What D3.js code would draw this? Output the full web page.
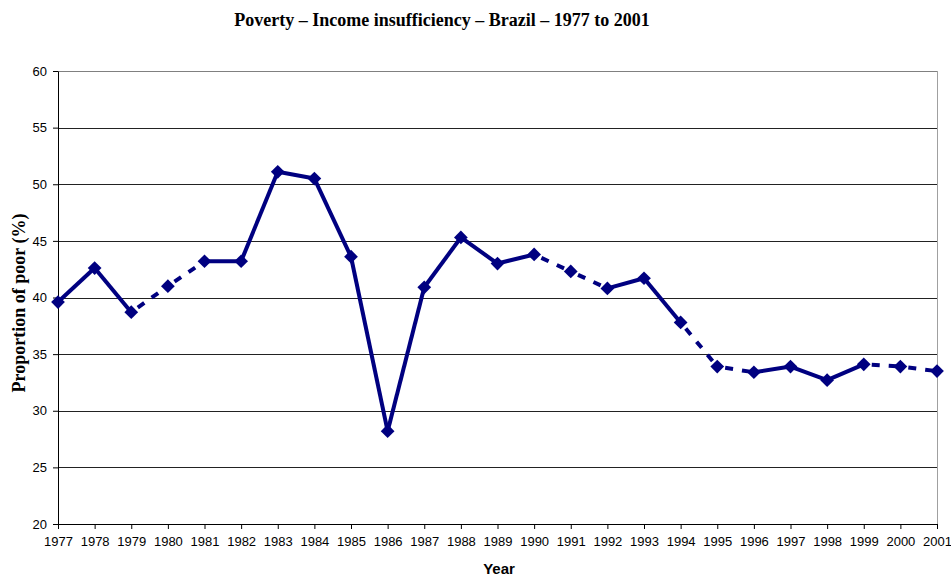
<!DOCTYPE html>
<html>
<head>
<meta charset="utf-8">
<script src="https://cdn.jsdelivr.net/npm/d3@7"></script>
<style>
  body { margin: 0; background: #fff; }
  .tick text { font-family: "Liberation Sans", Arial, sans-serif; font-size: 13px; fill: #000; }
</style>
</head>
<body>
<div id="chart"></div>
<script>
// data
var years = [1977, 1978, 1979, 1980, 1981, 1982, 1983, 1984, 1985, 1986, 1987, 1988, 1989,
  1990, 1991, 1992, 1993, 1994, 1995, 1996, 1997, 1998, 1999, 2000, 2001];
var poor = [39.6, 42.6, 38.7, 41.0, 43.2, 43.2, 51.1, 50.5, 43.6, 28.2, 40.9, 45.3, 43.0,
  43.8, 42.3, 40.8, 41.7, 37.8, 33.9, 33.4, 33.9, 32.7, 34.1, 33.9, 33.5];
// 1 = segment starting at this year is dashed
var dashedFrom = [0, 0, 1, 1, 0, 0, 0, 0, 0, 0, 0, 0, 0,
  1, 1, 0, 0, 1, 1, 0, 0, 0, 1, 1];
var yTicks = [20, 25, 30, 35, 40, 45, 50, 55, 60];

var svgWidth = 951, svgHeight = 576;
var margin = {top: 71, right: 14, bottom: 52, left: 58};
var width = svgWidth - margin.left - margin.right;
var height = svgHeight - margin.top - margin.bottom;

var svg = d3.select("#chart").append("svg")
  .attr("width", svgWidth)
  .attr("height", svgHeight);

var chartGroup = svg.append("g")
  .attr("transform", `translate(${margin.left}, ${margin.top})`);

var x = d3.scaleLinear().domain([1977, 2001]).range([0, width]);
var y = d3.scaleLinear().domain([20, 60]).range([height, 0]);

// grid lines
chartGroup.selectAll(".grid")
  .data(yTicks.slice(1))
  .enter()
  .append("line")
  .attr("x1", 0)
  .attr("x2", width)
  .attr("y1", d => Math.round(y(d)) + 0.5)
  .attr("y2", d => Math.round(y(d)) + 0.5)
  .attr("stroke", d => d === 60 ? "#808080" : "#222")
  .attr("stroke-width", 1);

// right border
chartGroup.append("line")
  .attr("x1", width + 0.5).attr("x2", width + 0.5)
  .attr("y1", 0).attr("y2", height)
  .attr("stroke", "#a0a0a0");

// axes
var xAxis = d3.axisBottom(x).tickValues(years).tickFormat(d3.format("d"))
  .tickSize(5).tickPadding(8).tickSizeOuter(0);
var yAxis = d3.axisLeft(y).tickValues(yTicks).tickSize(5).tickPadding(6).tickSizeOuter(0);

chartGroup.append("g")
  .attr("transform", `translate(0, ${height})`)
  .call(xAxis)
  .call(g => g.select(".domain").attr("stroke", "#000"));

chartGroup.append("g")
  .call(yAxis)
  .call(g => g.select(".domain").attr("stroke", "#000"));

// line segments
var segs = d3.range(years.length - 1);
chartGroup.selectAll(".seg")
  .data(segs)
  .enter()
  .append("line")
  .attr("x1", i => x(years[i]))
  .attr("y1", i => y(poor[i]))
  .attr("x2", i => x(years[i + 1]))
  .attr("y2", i => y(poor[i + 1]))
  .attr("stroke", "#000080")
  .attr("stroke-width", 4)
  .attr("stroke-dasharray", i => dashedFrom[i] ? "8,9" : null)
  .attr("stroke-dashoffset", i => dashedFrom[i] ? -8 : null);

// diamond markers
var diamond = d3.symbol().type(d3.symbolDiamond2).size(120);
chartGroup.selectAll(".pt")
  .data(years)
  .enter()
  .append("path")
  .attr("d", diamond)
  .attr("transform", (d, i) => `translate(${x(d)}, ${y(poor[i])})`)
  .attr("fill", "#000080");

// titles
svg.append("text")
  .attr("x", 442)
  .attr("y", 26)
  .attr("text-anchor", "middle")
  .style("font-family", "'Liberation Serif', 'Times New Roman', serif")
  .style("font-weight", "bold")
  .style("font-size", "18px")
  .text("Poverty \u2013 Income insufficiency \u2013 Brazil \u2013 1977 to 2001");

svg.append("text")
  .attr("transform", "rotate(-90)")
  .attr("x", -303)
  .attr("y", 25)
  .attr("text-anchor", "middle")
  .style("font-family", "'Liberation Serif', 'Times New Roman', serif")
  .style("font-weight", "bold")
  .style("font-size", "18px")
  .text("Proportion of poor (%)");

svg.append("text")
  .attr("x", 499)
  .attr("y", 574)
  .attr("text-anchor", "middle")
  .style("font-family", "'Liberation Sans', Arial, sans-serif")
  .style("font-weight", "bold")
  .style("font-size", "15px")
  .text("Year");
</script>
</body>
</html>
